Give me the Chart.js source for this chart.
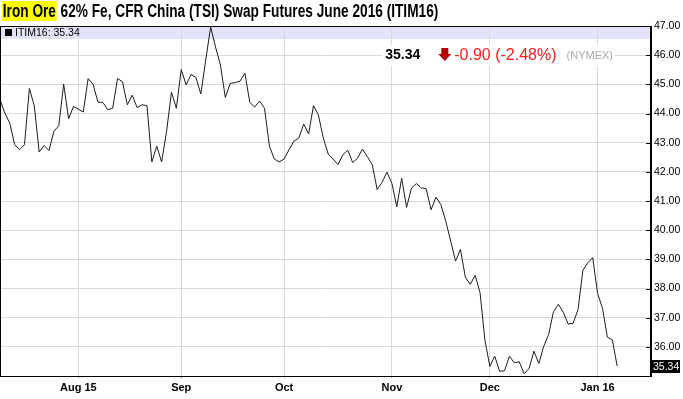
<!DOCTYPE html>
<html><head><meta charset="utf-8">
<script src="https://cdn.jsdelivr.net/npm/chart.js@4.4.1/dist/chart.umd.min.js"></script>
<style>
html,body{margin:0;padding:0;background:#fff;}
#wrap{position:relative;width:683px;height:399px;overflow:hidden;background:#fff;}
canvas{position:absolute;left:0;top:0;}
#title{position:absolute;left:2px;top:1px;font-family:"Liberation Sans",Arial,sans-serif;font-weight:bold;font-size:18px;line-height:21px;color:#000;white-space:nowrap;transform:scaleX(0.76);transform-origin:0 0;}
#title .hl{background:#ffff00;padding:0 1px;}
</style></head>
<body>
<div id="wrap">
<canvas id="c" width="683" height="399"></canvas>
<div id="title"><span class="hl">Iron Ore</span> 62% Fe, CFR China (TSI) Swap Futures June 2016 (ITIM16)</div>
</div>
<script>
// ---- data ----
const symbol = 'ITIM16';
const exchange = '(NYMEX)';
const lastPrice = 35.34;
const change = -0.90;
const changePct = -2.48;

// daily settlement prices (trading days, mid-Jul 2015 .. 8 Jan 2016)
const prices = [
  44.47, 44.01, 43.67, 42.93, 42.76, 42.93, 44.86, 44.26, 42.68, 42.90,
  42.73, 43.39, 43.58, 45.01, 43.82, 44.24, 44.15, 44.05, 45.20, 45.00,
  44.39, 44.38, 44.13, 44.18, 45.20, 45.09, 44.30, 44.63, 44.20, 44.30,
  44.27, 42.34, 42.88, 42.34, 43.38, 44.73, 44.18, 45.51, 44.98, 45.34,
  45.23, 44.67, 45.83, 46.97, 46.28, 45.66, 44.55, 45.03, 45.06, 45.11,
  45.38, 44.38, 44.22, 44.43, 44.18, 42.88, 42.44, 42.34, 42.44, 42.76,
  43.05, 43.16, 43.64, 43.30, 44.27, 43.95, 43.16, 42.61, 42.44, 42.25,
  42.59, 42.74, 42.32, 42.47, 42.78, 42.52, 42.24, 41.39, 41.64, 41.99,
  41.61, 40.80, 41.78, 40.78, 41.44, 41.60, 41.45, 41.42, 40.70, 41.13,
  40.88, 40.31, 39.63, 38.94, 39.34, 38.39, 38.14, 38.45, 37.86, 36.22,
  35.33, 35.68, 35.16, 35.18, 35.68, 35.45, 35.49, 35.08, 35.25, 35.85,
  35.43, 36.02, 36.42, 37.21, 37.46, 37.18, 36.78, 36.81, 37.27, 38.63,
  38.88, 39.06, 37.83, 37.32, 36.33, 36.24, 35.34
];
// index of first trading day of each month shown on the axis
const tickIdx = [16, 37, 58, 80, 100, 122];
const tickLabels = ['Aug 15', 'Sep', 'Oct', 'Nov', 'Dec', 'Jan 16'];
const yMin = 35, yMax = 47;
const xSlots = 132.9; // trading-day slots spanned by the axis

const SANS = '"Liberation Sans",Arial,sans-serif';
const GRID = '#d9d9d9';

const overlay = {
  id: 'overlay',
  beforeDraw(chart) {
    const {ctx, chartArea: a} = chart;
    ctx.save();
    ctx.fillStyle = '#e2e2f9';
    ctx.fillRect(a.left, a.top, a.right - a.left, 13);
    ctx.restore();
  },
  beforeDatasetsDraw(chart) {
    const {ctx, chartArea: a, scales: {y}} = chart;
    ctx.save();
    const yc = Math.round(y.getPixelForValue(46));
    ctx.font = '11px ' + SANS;
    const wN = ctx.measureText(exchange).width;
    const chgTxt = change.toFixed(2) + ' (' + changePct.toFixed(2) + '%)';
    ctx.font = '16px ' + SANS;
    const wC = ctx.measureText(chgTxt).width;
    ctx.font = 'bold 14px ' + SANS;
    const wP = ctx.measureText(lastPrice.toFixed(2)).width;
    const xr = a.right - 38;
    const xN = xr - wN;
    const xC = xN - 10 - wC;
    const xA = xC - 16;
    const xP = xA - 19 - wP;
    ctx.fillStyle = '#fff';
    ctx.fillRect(xP - 2, yc - 10, xr - xP + 4, 21);
    ctx.textBaseline = 'middle';
    ctx.fillStyle = '#000';
    ctx.font = 'bold 14px ' + SANS;
    ctx.fillText(lastPrice.toFixed(2), xP + 1, yc);
    ctx.fillStyle = '#b40000';
    ctx.fillRect(xA + 3, yc - 7, 7, 7);
    ctx.beginPath();
    ctx.moveTo(xA, yc - 1);
    ctx.lineTo(xA + 13, yc - 1);
    ctx.lineTo(xA + 6.5, yc + 6);
    ctx.closePath();
    ctx.fill();
    ctx.fillStyle = '#ff1a1a';
    ctx.font = '16px ' + SANS;
    ctx.fillText(chgTxt, xC, yc + 1);
    ctx.fillStyle = '#a8a8a8';
    ctx.font = '11px ' + SANS;
    ctx.fillText(exchange, xN, yc + 1);
    ctx.restore();
  },
  afterDraw(chart) {
    const {ctx, chartArea: a, scales: {y}} = chart;
    ctx.save();
    ctx.strokeStyle = '#000';
    ctx.lineWidth = 1;
    ctx.strokeRect(a.left + 0.5, a.top + 0.5, a.right - a.left - 1, a.bottom - a.top);
    ctx.beginPath();
    for (let v = yMin + 1; v <= yMax; v++) {
      const py = Math.round(y.getPixelForValue(v)) + 0.5;
      ctx.moveTo(a.right - 5, py);
      ctx.lineTo(a.right, py);
    }
    ctx.stroke();
    // legend
    ctx.fillStyle = '#000';
    ctx.fillRect(a.left + 5, a.top + 3, 7, 7);
    ctx.font = '10.5px ' + SANS;
    ctx.textBaseline = 'middle';
    ctx.fillText(symbol + ': ' + lastPrice.toFixed(2), a.left + 15, a.top + 7);
    // last value marker
    const ly = Math.round(y.getPixelForValue(prices[prices.length - 1]));
    ctx.fillStyle = '#000';
    ctx.fillRect(a.right, ly - 6, 29, 13);
    ctx.fillStyle = '#fff';
    ctx.font = '10.5px ' + SANS;
    ctx.fillText(lastPrice.toFixed(2), a.right + 2, ly + 1);
    ctx.restore();
  }
};

new Chart(document.getElementById('c'), {
  type: 'line',
  data: {
    datasets: [{
      data: prices.map((v, i) => ({x: i, y: v})),
      borderColor: '#1c1c1c',
      borderWidth: 1,
      pointRadius: 0,
      tension: 0,
      fill: false
    }]
  },
  options: {
    responsive: false,
    animation: false,
    devicePixelRatio: 1,
    layout: {padding: {top: 26, left: 0, right: 0, bottom: 0}},
    plugins: {legend: {display: false}, tooltip: {enabled: false}, title: {display: false}},
    scales: {
      x: {
        type: 'linear', min: 0, max: xSlots,
        afterBuildTicks: s => { s.ticks = tickIdx.map(v => ({value: v})); },
        afterFit: s => { s.height = 23; },
        ticks: {autoSkip: false, maxRotation: 0, padding: 3, color: '#000',
          font: {family: SANS, size: 11, weight: 'bold'},
          callback: (v, i) => tickLabels[i]},
        grid: {color: GRID, drawTicks: true, tickLength: 2, tickColor: '#999'},
        border: {display: true, color: '#000'}
      },
      y: {
        type: 'linear', position: 'right', min: yMin, max: yMax,
        afterFit: s => { s.width = 32; },
        ticks: {stepSize: 1, padding: 3, color: '#000',
          font: {family: SANS, size: 10.5},
          callback: v => v === yMin ? '' : v.toFixed(2)},
        grid: {color: GRID, drawTicks: false},
        border: {display: true, color: '#000'}
      }
    }
  },
  plugins: [overlay]
});
</script>
</body></html>
